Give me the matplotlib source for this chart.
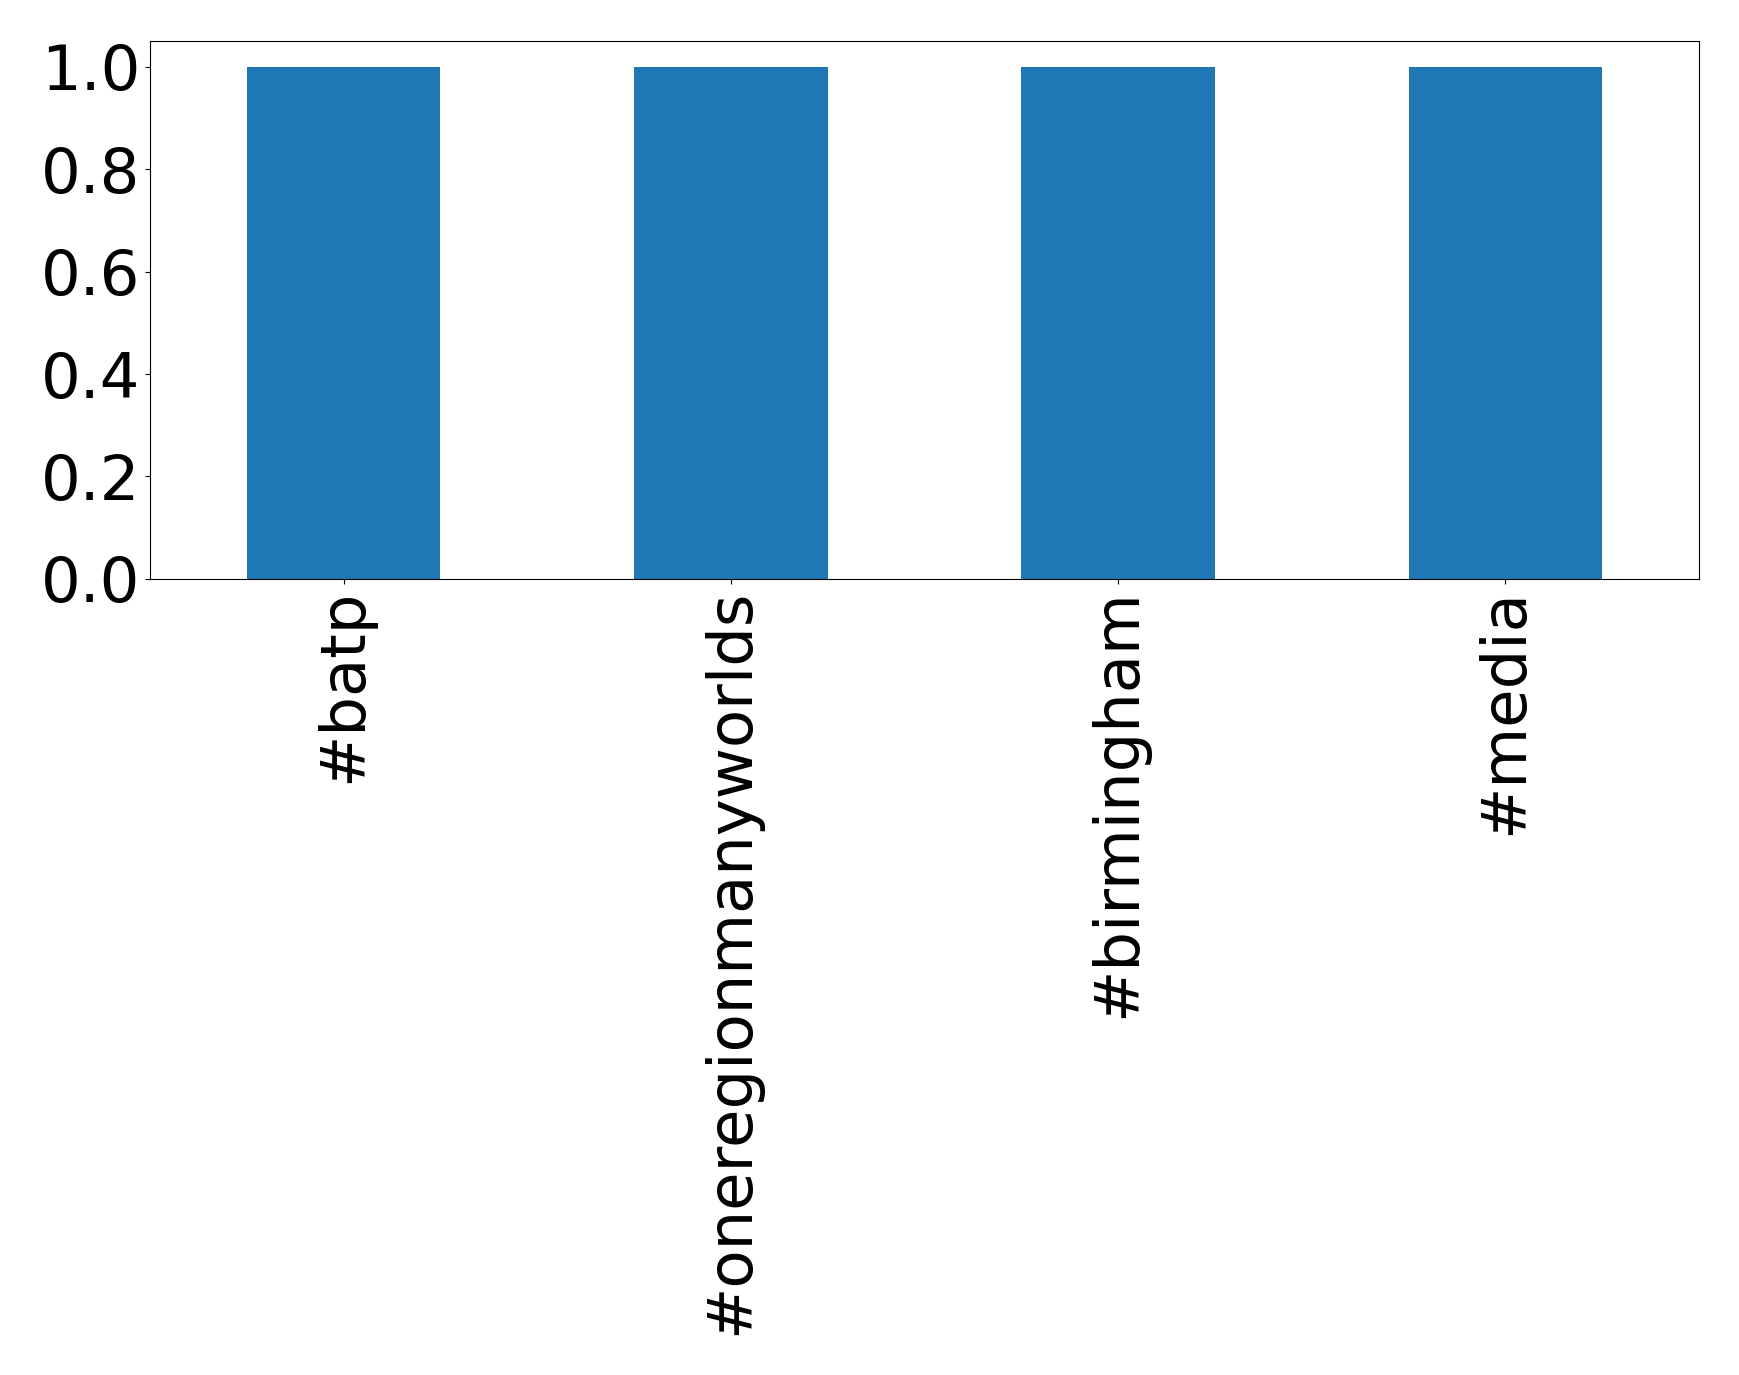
import matplotlib
matplotlib.use("Agg")
import matplotlib.pyplot as plt
import pandas as pd

# hashtag counts
hashtags = ['#batp', '#oneregionmanyworlds', '#birmingham', '#media']
counts = [1, 1, 1, 1]
yticks = [0.0, 0.2, 0.4, 0.6, 0.8, 1.0]

fig = plt.figure(figsize=(17.39, 13.75), dpi=100)
ax = fig.add_axes([0.0863, 0.579, 0.8907, 0.391])

s = pd.Series(counts, index=hashtags)
s.plot(kind='bar', ax=ax, color='#1f77b4', width=0.5)

ax.set_yticks(yticks)
ax.tick_params(axis='both', labelsize=45)
ax.set_xticklabels(hashtags, rotation=90)

fig.savefig('out.png', dpi=100)
